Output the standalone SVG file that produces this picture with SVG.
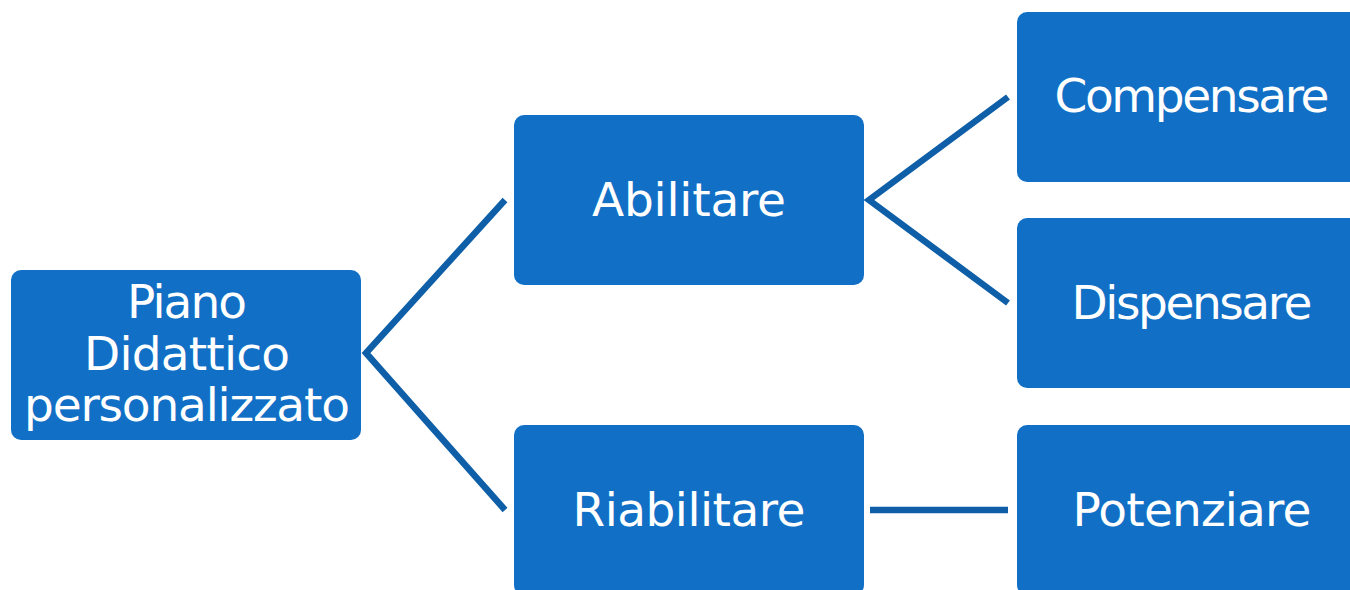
<svg xmlns="http://www.w3.org/2000/svg" width="1350" height="590" viewBox="0 0 1350 590">
<style>
.box{fill:#1170c6}
.t{fill:#fff;font-family:"DejaVu Sans","Liberation Sans",sans-serif;font-size:47px;text-anchor:middle}
.c{stroke:#0f5fa8;stroke-width:6.5;fill:none}
</style>
<rect width="1350" height="590" fill="#fff"/>
<g id="connectors">
<polyline class="c" points="505,200 366,353 505,510"/>
<polyline class="c" points="1008,97 869,200 1008,303"/>
<line class="c" x1="870" y1="510" x2="1008" y2="510" stroke-width="8"/>
</g>
<g id="root">
<rect class="box" x="11" y="270" width="350" height="170" rx="10"/>
<text class="t" x="187" y="318" textLength="120">Piano</text>
<text class="t" x="187" y="370" textLength="206">Didattico</text>
<text class="t" x="187" y="421" textLength="326">personalizzato</text>
</g>
<g id="abilitare">
<rect class="box" x="514" y="115" width="350" height="170" rx="10"/>
<text class="t" x="689" y="216" textLength="194">Abilitare</text>
</g>
<g id="riabilitare">
<rect class="box" x="514" y="425" width="350" height="170" rx="10"/>
<text class="t" x="689" y="526" textLength="233">Riabilitare</text>
</g>
<g id="compensare">
<rect class="box" x="1017" y="12" width="350" height="170" rx="10"/>
<text class="t" x="1192" y="112" textLength="275">Compensare</text>
</g>
<g id="dispensare">
<rect class="box" x="1017" y="218" width="350" height="170" rx="10"/>
<text class="t" x="1192" y="319" textLength="241">Dispensare</text>
</g>
<g id="potenziare">
<rect class="box" x="1017" y="425" width="350" height="170" rx="10"/>
<text class="t" x="1192" y="526" textLength="239">Potenziare</text>
</g>
</svg>
